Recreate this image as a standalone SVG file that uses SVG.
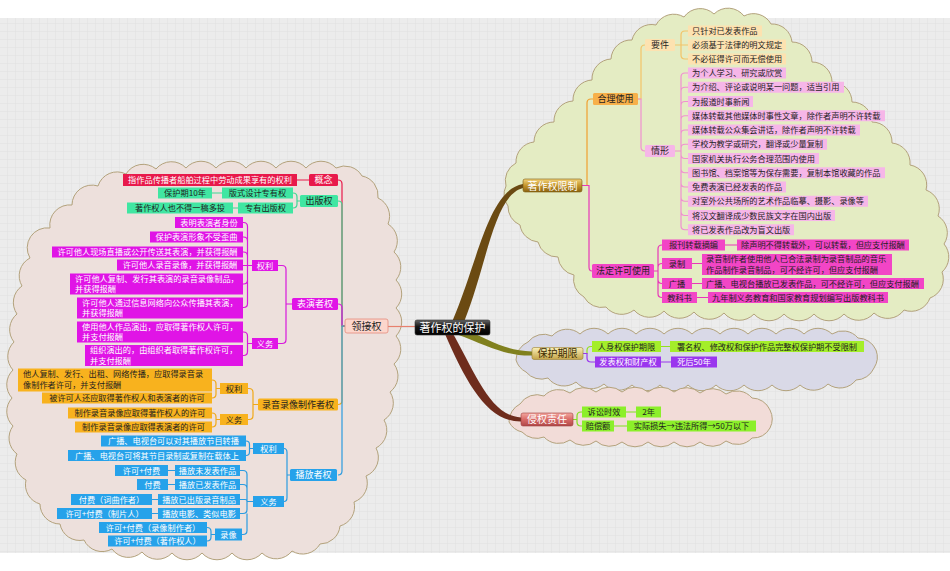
<svg xmlns="http://www.w3.org/2000/svg" width="950" height="571" viewBox="0 0 950 571">
<defs>
<pattern id="grid" width="8" height="8" patternUnits="userSpaceOnUse"><rect width="8" height="8" fill="#ececec"/><path d="M8 0V8M0 8H8" stroke="#e1e1e1" stroke-width="1"/></pattern>
<linearGradient id="gGold" x1="0" y1="0" x2="0" y2="1"><stop offset="0" stop-color="#f2d27a"/><stop offset="0.5" stop-color="#c4952c"/><stop offset="1" stop-color="#8a6210"/></linearGradient>
<linearGradient id="gKhaki" x1="0" y1="0" x2="0" y2="1"><stop offset="0" stop-color="#faf0b8"/><stop offset="1" stop-color="#c4a448"/></linearGradient>
<linearGradient id="gRed" x1="0" y1="0" x2="0" y2="1"><stop offset="0" stop-color="#f4a8a0"/><stop offset="0.5" stop-color="#d86a66"/><stop offset="1" stop-color="#b04848"/></linearGradient>
<linearGradient id="gBlack" x1="0" y1="0" x2="0" y2="1"><stop offset="0" stop-color="#666"/><stop offset="0.45" stop-color="#151515"/><stop offset="1" stop-color="#000"/></linearGradient>
</defs>
<style>
text{font-family:"Noto Sans CJK SC","Noto Sans",sans-serif;font-size:8.2px;fill:#1e1e1e}
.c{text-anchor:middle}
.w{fill:#fff}
.m{font-size:9px}
.b{font-size:10px}
.cloud{stroke:#b3a27c;stroke-width:1}
.ln{fill:none;stroke-width:1.2}
.red{fill:#e8194b}.grn{fill:#40e6a2}.mag{fill:#e014e6}.org{fill:#f8b21e}.blu{fill:#26a2ea}
.hp{fill:#f245c6}.lp{fill:#f6b6e8}.lo{fill:#fde2b0}.ro{fill:#f7b04a}.yg{fill:#a4ee2a}.pur{fill:#9a36ee}.lim{fill:#8cef2a}
.sred{stroke:#e8194b}.sgrn{stroke:#3fd894}.smag{stroke:#d818dc}.sorg{stroke:#f0a818}.sblu{stroke:#2a9be0}
.shp{stroke:#e838b8}.slp{stroke:#f090d0}.slo{stroke:#f3c468}.sro{stroke:#f0a030}.syg{stroke:#92e020}.spur{stroke:#9a36ee}.slim{stroke:#80e020}
</style>
<rect width="950" height="571" fill="#fff"/>
<rect x="0" y="18" width="950" height="535" fill="url(#grid)"/>

<g id="clouds">
<path class="cloud" fill="#e4ecc3" d="M506,186 A20 20 0 0 1 516,163 A20 20 0 0 1 534,142 A20 20 0 0 1 554,122 A20 20 0 0 1 573,101 A20 20 0 0 1 592,80 A20 20 0 0 1 611,59 A20 20 0 0 1 632,40 A20 20 0 0 1 656,25 A20 20 0 0 1 684,17 A20 20 0 0 1 714,14 A20 20 0 0 1 744,16 A20 20 0 0 1 771,24 A20 20 0 0 1 792,42 A20 20 0 0 1 812,62 A20 20 0 0 1 832,82 A20 20 0 0 1 852,102 A20 20 0 0 1 872,122 A20 20 0 0 1 892,143 A20 20 0 0 1 910,165 A20 20 0 0 1 926,190 A20 20 0 0 1 938,216 A20 20 0 0 1 944,244 A20 20 0 0 1 942,272 A20 20 0 0 1 930,298 A20 20 0 0 1 904,310 A20 20 0 0 1 874,313 A20 20 0 0 1 844,314 A20 20 0 0 1 814,314 A20 20 0 0 1 784,314 A20 20 0 0 1 754,314 A20 20 0 0 1 724,313 A20 20 0 0 1 694,312 A20 20 0 0 1 664,311 A20 20 0 0 1 634,310 A20 20 0 0 1 606,307 A20 20 0 0 1 584,297 A20 20 0 0 1 574,275 A20 20 0 0 1 558,257 A20 20 0 0 1 538,242 A20 20 0 0 1 520,225 A20 20 0 0 1 508,206 A20 20 0 0 1 506,186 Z"/>
<path class="cloud" fill="#ede0dc" d="M50,228 A20 20 0 0 1 72,205 A20 20 0 0 1 98,186 A20 20 0 0 1 126,174 A20 20 0 0 1 156,169 A20 20 0 0 1 186,168 A20 20 0 0 1 216,168 A20 20 0 0 1 246,168 A20 20 0 0 1 276,168 A20 20 0 0 1 306,168 A20 20 0 0 1 336,168 A20 20 0 0 1 362,176 A20 20 0 0 1 378,198 A20 20 0 0 1 388,224 A20 20 0 0 1 394,252 A20 20 0 0 1 396,280 A20 20 0 0 1 396,308 A20 20 0 0 1 396,336 A20 20 0 0 1 394,364 A20 20 0 0 1 390,392 A20 20 0 0 1 384,420 A20 20 0 0 1 376,448 A20 20 0 0 1 366,476 A20 20 0 0 1 354,502 A20 20 0 0 1 340,526 A20 20 0 0 1 320,544 A20 20 0 0 1 292,551 A20 20 0 0 1 262,553 A20 20 0 0 1 232,553 A20 20 0 0 1 202,553 A20 20 0 0 1 172,553 A20 20 0 0 1 142,552 A20 20 0 0 1 112,549 A20 20 0 0 1 84,540 A20 20 0 0 1 60,524 A20 20 0 0 1 40,504 A20 20 0 0 1 26,480 A20 20 0 0 1 17,454 A20 20 0 0 1 13,426 A20 20 0 0 1 12,398 A20 20 0 0 1 13,370 A20 20 0 0 1 14,342 A20 20 0 0 1 17,314 A20 20 0 0 1 22,286 A20 20 0 0 1 30,258 A20 20 0 0 1 50,228 Z"/>
<path class="cloud" fill="#d9d9e7" d="M516,360 A20 20 0 0 1 528,342 A20 20 0 0 1 552,336 A20 20 0 0 1 580,334 A20 20 0 0 1 608,334 A20 20 0 0 1 636,334 A20 20 0 0 1 664,334 A20 20 0 0 1 692,334 A20 20 0 0 1 720,334 A20 20 0 0 1 748,334 A20 20 0 0 1 776,334 A20 20 0 0 1 804,334 A20 20 0 0 1 832,334 A20 20 0 0 1 858,338 A20 20 0 0 1 876,350 A20 20 0 0 1 874,368 A20 20 0 0 1 856,380 A20 20 0 0 1 828,384 A20 20 0 0 1 800,385 A20 20 0 0 1 772,385 A20 20 0 0 1 744,385 A20 20 0 0 1 716,385 A20 20 0 0 1 688,385 A20 20 0 0 1 660,385 A20 20 0 0 1 632,385 A20 20 0 0 1 604,384 A20 20 0 0 1 576,382 A20 20 0 0 1 548,378 A20 20 0 0 1 526,372 A20 20 0 0 1 516,360 Z"/>
<path class="cloud" fill="#f2dcd8" d="M509,422 A20 20 0 0 1 520,404 A20 20 0 0 1 544,396 A20 20 0 0 1 570,393 A20 20 0 0 1 596,392 A20 20 0 0 1 622,392 A20 20 0 0 1 648,392 A20 20 0 0 1 674,392 A20 20 0 0 1 700,393 A20 20 0 0 1 726,394 A20 20 0 0 1 752,398 A20 20 0 0 1 770,410 A20 20 0 0 1 770,428 A20 20 0 0 1 752,438 A20 20 0 0 1 726,441 A20 20 0 0 1 700,442 A20 20 0 0 1 674,442 A20 20 0 0 1 648,442 A20 20 0 0 1 622,442 A20 20 0 0 1 596,441 A20 20 0 0 1 570,440 A20 20 0 0 1 544,437 A20 20 0 0 1 522,432 A20 20 0 0 1 509,422 Z"/>
</g>

<g id="connectors">
<path fill="#6b4a12" d="M452,322 C478,262 488,190 523,184 L523,188 C494,195 487,265 464,322 Z"/>
<path fill="#80801e" d="M458,326 C490,340 505,351 532,351.5 L532,355.5 C505,356 488,346 456,334 Z"/>
<path fill="#6e2c1c" d="M452,332 C475,372 490,416 521,417.5 L521,421.5 C487,422 466,382 445,334 Z"/>
<path class="ln" stroke="#e8806e" stroke-width="2" d="M415,326.5 H388"/>
<path class="ln sro" d="M582,185.5 H587 V103 Q587,99 591,99 H593"/>
<path class="ln shp" d="M582,185.5 H589 V267 Q589,271 592,271"/>
<path class="ln slo" d="M638,99 H641 V49 Q641,45 645,45"/>
<path class="ln slp" d="M638,99 H641 V147 Q641,151 645,151"/>
<path class="ln slo" d="M675,45 H681 V35 Q681,31 685,31 H688 M675,45 H688 M675,45 H681 V55 Q681,59 685,59 H688"/>
<path class="ln slp" d="M675,151 H681 V77 Q681,73 685,73 H688 M681,91.25 Q681,87.25 685,87.25 H688 M681,105.5 Q681,101.5 685,101.5 H688 M681,119.75 Q681,115.75 685,115.75 H688 M681,134 Q681,130 685,130 H688 M681,148.25 Q681,144.25 685,144.25 H688 M675,151 H681 V225.75 Q681,229.75 685,229.75 H688 M681,154.5 Q681,158.5 685,158.5 H688 M681,168.75 Q681,172.75 685,172.75 H688 M681,183 Q681,187 685,187 H688 M681,197.25 Q681,201.25 685,201.25 H688 M681,211.5 Q681,215.5 685,215.5 H688"/>
<path class="ln shp" d="M654,271 H658 V249 Q658,245 662,245 M658,267.5 Q658,263.5 662,263.5 M654,271 H658 V293.5 Q658,297.5 662,297.5 M658,279.5 Q658,283.5 662,283.5 M725,245 H737 M692,263.5 H702 M692,283.5 H702 M697,297.5 H708"/>
<path class="ln sred" d="M345,326 H342 V184 Q342,180 338,180 M309,180 H297"/>
<path class="ln sgrn" d="M345,326 H342 V205 Q342,201 338,201 M300,201 H297 V197 Q297,193 293,193 M297,201 V204 Q297,208 293,208 M222,193 H212 M238,208 H233"/>
<path class="ln smag" d="M345,326 H342 V308 Q342,304 338,304 M292,304 H286 V269.5 Q286,265.5 282,265.5 H278 M286,304 V339.5 Q286,343.5 282,343.5 H278 M252,265.5 H247.5 V226.5 Q247.5,222.5 243.5,222.5 H243 M247.5,241 Q247.5,237 243.5,237 H243 M247.5,256 Q247.5,252 243.5,252 H243 M252,265.5 H243 M252,265.5 H247.5 V303.5 Q247.5,307.5 243.5,307.5 H243 M247.5,280 Q247.5,284 243.5,284 H243 M252,343.5 H247.5 V336 Q247.5,332 243.5,332 H243 M247.5,343.5 V351.5 Q247.5,355.5 243.5,355.5 H243"/>
<path class="ln sorg" d="M345,326 H342 V400.5 Q342,404.5 338,404.5 M258,404.5 H253 V392.5 Q253,388.5 249,388.5 H248 M253,404.5 V415.5 Q253,419.5 249,419.5 H248 M220,388.5 H216 V384 Q216,380 212,380 M216,388.5 V394 Q216,398 212,398 M220,419.5 H216 V417 Q216,413 212,413 M216,419.5 V423 Q216,427 212,427"/>
<path class="ln sblu" d="M345,326 H342 V471 Q342,475 338,475 M290,475 H287 V452.5 Q287,448.5 284,448.5 M287,475 V497.5 Q287,501.5 284,501.5 M253,448.5 H249.5 V444.5 Q249.5,441 246,441 M249.5,448.5 V452 Q249.5,455.5 246,455.5 M253,501.5 H247 V474.5 Q247,470.5 243,470.5 H240 M247,488.5 Q247,484.5 243,484.5 H240 M247,501.5 Q247,499.5 245,499.5 H240 M247,501.5 V509.5 Q247,513.5 243,513.5 H240 M247,513.5 V530.5 Q247,534.5 243,534.5 H242 M175,470.5 H168 M175,484.5 H168 M158,499.5 H152 M158,513.5 H152 M215,534.5 H211 V531.5 Q211,527.5 207,527.5 M211,534.5 V537 Q211,541 207,541"/>
<path class="ln syg" d="M583,353.5 H587 V350.5 Q587,346.5 591,346.5 H592 M661,346.5 H670"/>
<path class="ln spur" d="M583,353.5 H587 V358 Q587,362 591,362 H595 M661,362 H671"/>
<path class="ln slim" d="M573,419.5 H577 V416 Q577,412 581,412 H582 M577,419.5 V422 Q577,426 581,426 H582 M626,412 H636 M614,426 H627"/>
</g>

<g id="n-root"><rect x="415" y="320" width="75" height="15" rx="2" fill="url(#gBlack)" stroke="#333" stroke-width="0.6"/><text class="c w" x="452.5" y="331.5" style="font-size:11px">著作权的保护</text></g>

<g id="n-limit"><rect x="523" y="179" width="59" height="13" rx="2" fill="url(#gGold)" stroke="#7a5a10" stroke-width="0.6"/><text class="c w b" x="552.5" y="189.5">著作权限制</text></g>
<g id="n-fair"><rect class="ro" x="593" y="93" width="45" height="12" rx="1.5"/><text class="c m" x="615.5" y="102.3">合理使用</text></g>
<g id="n-req"><rect class="lo" x="645" y="39" width="30" height="12" rx="1.5"/><text class="c m" x="660" y="48.3">要件</text></g>
<g id="n-req1"><rect class="lo" x="688" y="25.5" width="74" height="11"/><text x="692" y="34">只针对已发表作品</text></g>
<g id="n-req2"><rect class="lo" x="688" y="39.5" width="98" height="11"/><text x="692" y="48">必须基于法律的明文规定</text></g>
<g id="n-req3"><rect class="lo" x="688" y="53.5" width="98" height="11"/><text x="692" y="62">不必征得许可而无偿使用</text></g>
<g id="n-case"><rect class="lp" x="645" y="145" width="30" height="12" rx="1.5"/><text class="c m" x="660" y="154.3">情形</text></g>
<g id="n-case1"><rect class="lp" x="688" y="67.5" width="98" height="11"/><text x="692" y="76">为个人学习、研究或欣赏</text></g>
<g id="n-case2"><rect class="lp" x="688" y="81.75" width="156" height="11"/><text x="692" y="90.25">为介绍、评论或说明某一问题，适当引用</text></g>
<g id="n-case3"><rect class="lp" x="688" y="96" width="65" height="11"/><text x="692" y="104.5">为报道时事新闻</text></g>
<g id="n-case4"><rect class="lp" x="688" y="110.25" width="197" height="11"/><text x="692" y="118.75">媒体转载其他媒体时事性文章，除作者声明不许转载</text></g>
<g id="n-case5"><rect class="lp" x="688" y="124.5" width="172" height="11"/><text x="692" y="133">媒体转载公众集会讲话，除作者声明不许转载</text></g>
<g id="n-case6"><rect class="lp" x="688" y="138.75" width="139" height="11"/><text x="692" y="147.25">学校为教学或研究，翻译或少量复制</text></g>
<g id="n-case7"><rect class="lp" x="688" y="153" width="131" height="11"/><text x="692" y="161.5">国家机关执行公务合理范围内使用</text></g>
<g id="n-case8"><rect class="lp" x="688" y="167.25" width="197" height="11"/><text x="692" y="175.75">图书馆、档案馆等为保存需要，复制本馆收藏的作品</text></g>
<g id="n-case9"><rect class="lp" x="688" y="181.5" width="98" height="11"/><text x="692" y="190">免费表演已经发表的作品</text></g>
<g id="n-case10"><rect class="lp" x="688" y="195.75" width="180" height="11"/><text x="692" y="204.25">对室外公共场所的艺术作品临摹、摄影、录像等</text></g>
<g id="n-case11"><rect class="lp" x="688" y="210" width="147" height="11"/><text x="692" y="218.5">将汉文翻译成少数民族文字在国内出版</text></g>
<g id="n-case12"><rect class="lp" x="688" y="224.25" width="106" height="11"/><text x="692" y="232.75">将已发表作品改为盲文出版</text></g>

<g id="n-legal"><rect class="hp" x="592" y="264" width="62" height="14" rx="1.5"/><text class="c m" x="623" y="274.3">法定许可使用</text></g>
<g id="n-press"><rect class="hp" x="662" y="239.5" width="63" height="11"/><text class="c" x="693.5" y="248">报刊转载摘编</text></g>
<g id="n-press1"><rect class="hp" x="737" y="239.5" width="172" height="11"/><text x="741" y="248">除声明不得转载外，可以转载，但应支付报酬</text></g>
<g id="n-rec"><rect class="hp" x="662" y="258" width="30" height="11"/><text class="c" x="677" y="266.5">录制</text></g>
<g id="n-rec1"><rect class="hp" x="702" y="254" width="190" height="21"/><text x="706" y="262.3">录音制作者使用他人已合法录制为录音制品的音乐</text><text x="706" y="272.5">作品制作录音制品，可不经许可，但应支付报酬</text></g>
<g id="n-bc"><rect class="hp" x="662" y="278" width="30" height="11"/><text class="c" x="677" y="286.5">广播</text></g>
<g id="n-bc1"><rect class="hp" x="702" y="278" width="222" height="11"/><text x="706" y="286.5">广播、电视台播放已发表作品，可不经许可，但应支付报酬</text></g>
<g id="n-tb"><rect class="hp" x="662" y="292" width="35" height="11"/><text class="c" x="679.5" y="300.5">教科书</text></g>
<g id="n-tb1"><rect class="hp" x="708" y="292" width="180" height="11"/><text x="712" y="300.5">九年制义务教育和国家教育规划编写出版教科书</text></g>

<g id="n-term"><rect x="532" y="347.5" width="51" height="12" rx="2" fill="url(#gKhaki)" stroke="#9a8030" stroke-width="0.6"/><text class="c b" x="557.5" y="357.3" style="fill:#3a2a00">保护期限</text></g>
<g id="n-pers"><rect class="yg" x="592" y="341" width="69" height="11"/><text class="c" x="626.5" y="349.5">人身权保护期限</text></g>
<g id="n-pers1"><rect class="yg" x="670" y="341" width="194" height="11"/><text class="c" x="767" y="349.5">署名权、修改权和保护作品完整权保护期不受限制</text></g>
<g id="n-prop"><rect class="pur" x="595" y="356.5" width="66" height="11"/><text class="c w" x="628" y="365">发表权和财产权</text></g>
<g id="n-prop1"><rect class="pur" x="671" y="356.5" width="46" height="11"/><text class="c w" x="694" y="365">死后50年</text></g>

<g id="n-inf"><rect x="521" y="413" width="52" height="13" rx="2" fill="url(#gRed)" stroke="#a04040" stroke-width="0.6"/><text class="c w b" x="547" y="423.3">侵权责任</text></g>
<g id="n-lim"><rect class="lim" x="582" y="406.5" width="44" height="11"/><text class="c" x="604" y="415">诉讼时效</text></g>
<g id="n-lim1"><rect class="lim" x="636" y="406.5" width="25" height="11"/><text class="c" x="648.5" y="415">2年</text></g>
<g id="n-comp"><rect class="lim" x="582" y="420.5" width="32" height="11"/><text class="c" x="598" y="429">赔偿额</text></g>
<g id="n-comp1"><rect class="lim" x="627" y="420.5" width="129" height="11"/><text class="c" x="691.5" y="429">实际损失→违法所得→50万以下</text></g>

<g id="n-neigh"><rect x="345" y="319" width="43" height="14" rx="2" fill="#fcd6cc" stroke="#e48c7c" stroke-width="0.8"/><text class="c b" x="366.5" y="329.8">领接权</text></g>
<g id="n-def"><rect class="red" x="309" y="174" width="29" height="12" rx="1.5"/><text class="c w m" x="323.5" y="183.3">概念</text></g>
<g id="n-def1"><rect class="red" x="123" y="174" width="174" height="12"/><text class="c w" x="210" y="183">指作品传播者船舶过程中劳动成果享有的权利</text></g>
<g id="n-pub"><rect class="grn" x="300" y="195" width="38" height="12" rx="1.5"/><text class="c m" x="319" y="204.3">出版权</text></g>
<g id="n-layout"><rect class="grn" x="222" y="187.5" width="71" height="11"/><text class="c" x="257.5" y="196">版式设计专有权</text></g>
<g id="n-layout1"><rect class="grn" x="158" y="187.5" width="54" height="11"/><text class="c" x="185" y="196">保护期10年</text></g>
<g id="n-excl"><rect class="grn" x="238" y="202.5" width="55" height="11"/><text class="c" x="265.5" y="211">专有出版权</text></g>
<g id="n-excl1"><rect class="grn" x="127" y="202.5" width="106" height="11"/><text class="c" x="180" y="211">著作权人也不得一稿多投</text></g>

<g id="n-perf"><rect class="mag" x="292" y="298" width="46" height="12" rx="1.5"/><text class="c w m" x="315" y="307.3">表演者权</text></g>
<g id="n-perf-r"><rect class="mag" x="252" y="260" width="26" height="11"/><text class="c w" x="265" y="268.5">权利</text></g>
<g id="n-perf-o"><rect class="mag" x="252" y="338" width="26" height="11"/><text class="c w" x="265" y="346.5">义务</text></g>
<g id="n-pr1"><rect class="mag" x="175" y="217" width="68" height="11"/><text class="c w" x="209" y="225.5">表明表演者身份</text></g>
<g id="n-pr2"><rect class="mag" x="150" y="231.5" width="93" height="11"/><text class="c w" x="196.5" y="240">保护表演形象不受歪曲</text></g>
<g id="n-pr3"><rect class="mag" x="52" y="246.5" width="191" height="11"/><text class="c w" x="147.5" y="255">许可他人现场直播或公开传送其表演，并获得报酬</text></g>
<g id="n-pr4"><rect class="mag" x="117" y="259.5" width="126" height="11"/><text class="c w" x="180" y="268">许可他人录音录像，并获得报酬</text></g>
<g id="n-pr5"><rect class="mag" x="70" y="273.5" width="173" height="21"/><text class="w" x="75" y="281.8">许可他人复制、发行其表演的录音录像制品，</text><text class="w" x="75" y="292">并获得报酬</text></g>
<g id="n-pr6"><rect class="mag" x="77" y="297.5" width="166" height="21"/><text class="w" x="82" y="305.8">许可他人通过信息网络向公众传播其表演，</text><text class="w" x="82" y="316">并获得报酬</text></g>
<g id="n-po1"><rect class="mag" x="77" y="321.5" width="166" height="21"/><text class="w" x="82" y="329.8">使用他人作品演出，应取得著作权人许可，</text><text class="w" x="82" y="340">并支付报酬</text></g>
<g id="n-po2"><rect class="mag" x="85" y="345" width="158" height="21"/><text class="w" x="90" y="353.3">组织演出的，由组织者取得著作权许可，</text><text class="w" x="90" y="363.5">并支付报酬</text></g>

<g id="n-av"><rect class="org" x="258" y="398.5" width="80" height="12" rx="1.5"/><text class="c m" x="298" y="407.8">录音录像制作者权</text></g>
<g id="n-av-r"><rect class="org" x="220" y="383" width="28" height="11"/><text class="c" x="234" y="391.5">权利</text></g>
<g id="n-av-o"><rect class="org" x="220" y="414" width="28" height="11"/><text class="c" x="234" y="422.5">义务</text></g>
<g id="n-ar1"><rect class="org" x="18" y="368.5" width="194" height="23"/><text x="23" y="377.3">他人复制、发行、出租、网络传播，应取得录音录</text><text x="23" y="387.8">像制作者许可，并支付报酬</text></g>
<g id="n-ar2"><rect class="org" x="42" y="392.5" width="170" height="11"/><text class="c" x="127" y="401">被许可人还应取得著作权人和表演者的许可</text></g>
<g id="n-ao1"><rect class="org" x="68" y="407.5" width="144" height="11"/><text class="c" x="140" y="416">制作录音录像应取得著作权人的许可</text></g>
<g id="n-ao2"><rect class="org" x="75" y="421.5" width="137" height="11"/><text class="c" x="143.5" y="430">制作录音录像应取得表演者的许可</text></g>

<g id="n-brd"><rect class="blu" x="290" y="469" width="47" height="12" rx="1.5"/><text class="c w m" x="313.5" y="478.3">播放者权</text></g>
<g id="n-brd-r"><rect class="blu" x="253" y="443" width="31" height="11"/><text class="c w" x="268.5" y="451.5">权利</text></g>
<g id="n-brd-o"><rect class="blu" x="253" y="496" width="31" height="11"/><text class="c w" x="268.5" y="504.5">义务</text></g>
<g id="n-br1"><rect class="blu" x="101" y="435.5" width="145" height="11"/><text class="c w" x="173.5" y="444">广播、电视台可以对其播放节目转播</text></g>
<g id="n-br2"><rect class="blu" x="68" y="450" width="178" height="11"/><text class="c w" x="157" y="458.5">广播、电视台可将其节目录制或复制在载体上</text></g>
<g id="n-bo1"><rect class="blu" x="175" y="465" width="65" height="11"/><text class="c w" x="207.5" y="473.5">播放未发表作品</text></g>
<g id="n-bo1a"><rect class="blu" x="115" y="465" width="53" height="11"/><text class="c w" x="141.5" y="473.5">许可+付费</text></g>
<g id="n-bo2"><rect class="blu" x="175" y="479" width="65" height="11"/><text class="c w" x="207.5" y="487.5">播放已发表作品</text></g>
<g id="n-bo2a"><rect class="blu" x="137" y="479" width="31" height="11"/><text class="c w" x="152.5" y="487.5">付费</text></g>
<g id="n-bo3"><rect class="blu" x="158" y="494" width="82" height="11"/><text class="c w" x="199" y="502.5">播放已出版录音制品</text></g>
<g id="n-bo3a"><rect class="blu" x="71" y="494" width="81" height="11"/><text class="c w" x="111.5" y="502.5">付费（词曲作者）</text></g>
<g id="n-bo4"><rect class="blu" x="158" y="508" width="82" height="11"/><text class="c w" x="199" y="516.5">播放电影、类似电影</text></g>
<g id="n-bo4a"><rect class="blu" x="57" y="508" width="95" height="11"/><text class="c w" x="104.5" y="516.5">许可+付费（制片人）</text></g>
<g id="n-bo5"><rect class="blu" x="215" y="528.5" width="27" height="12"/><text class="c w" x="228.5" y="537.5">录像</text></g>
<g id="n-bo5a"><rect class="blu" x="99" y="522" width="108" height="11"/><text class="c w" x="153" y="530.5">许可+付费（录像制作者）</text></g>
<g id="n-bo5b"><rect class="blu" x="108" y="535.5" width="99" height="11"/><text class="c w" x="157.5" y="544">许可+付费（著作权人）</text></g>
</svg>
